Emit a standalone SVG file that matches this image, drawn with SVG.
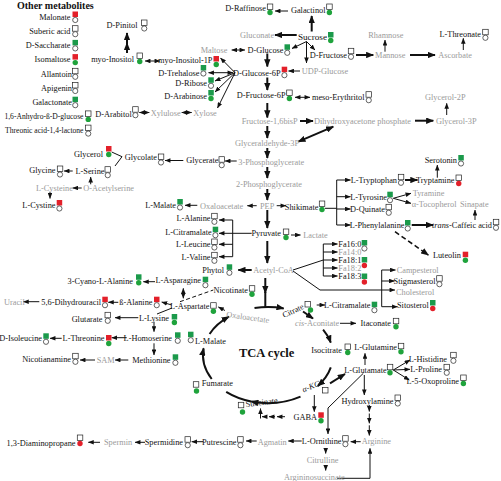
<svg xmlns="http://www.w3.org/2000/svg" width="501" height="481" viewBox="0 0 501 481">
<defs>
<marker id="a" viewBox="0 0 10 8" refX="9.5" refY="4" markerWidth="6" markerHeight="4.6" markerUnits="userSpaceOnUse" orient="auto"><path d="M0,0 L10,4 L0,8 z" fill="#111"/></marker>
<marker id="as" viewBox="0 0 10 8" refX="9.5" refY="4" markerWidth="6" markerHeight="4.6" markerUnits="userSpaceOnUse" orient="auto-start-reverse"><path d="M0,0 L10,4 L0,8 z" fill="#111"/></marker>
<marker id="ab" viewBox="0 0 10 8" refX="9" refY="4" markerWidth="8" markerHeight="6.4" markerUnits="userSpaceOnUse" orient="auto"><path d="M0,0 L10,4 L0,8 z" fill="#111"/></marker>
<marker id="abs" viewBox="0 0 10 8" refX="9" refY="4" markerWidth="8" markerHeight="6.4" markerUnits="userSpaceOnUse" orient="auto-start-reverse"><path d="M0,0 L10,4 L0,8 z" fill="#111"/></marker>
</defs>
<style>
text{font-family:"Liberation Serif","Times New Roman",serif;font-size:8.3px;fill:#111}
.e{text-anchor:end}
.g{fill:#9a9a9a}
.h{font-weight:bold}
.sm{font-size:7.6px}
.sq{fill:#fff;stroke:#222;stroke-width:0.7}
.sg{fill:#1b9a4b}
.sr{fill:#e3202a}
.ci{fill:#fff;stroke:#222;stroke-width:0.7}
.cg{fill:#1fa33c}
.cr{fill:#e3202a}
.l{fill:none;stroke:#111;stroke-width:1;marker-end:url(#a)}
.n{fill:none;stroke:#111;stroke-width:1}
.d{marker-start:url(#as)}
.t{fill:none;stroke:#111;stroke-width:2;marker-end:url(#ab)}
.td{marker-start:url(#abs)}
.c{fill:none;stroke:#111;stroke-width:2}
</style>
<rect width="501" height="481" fill="#fff"/>

<g id="connectors">
<path class="l" d="M288,11 L275,11"/>
<path class="t" d="M311.7,31.5 L311.7,16"/>
<path class="t" d="M296.7,35 L275,35"/>
<path class="l" d="M306.5,41.5 L292,48.5"/>
<path class="l" d="M306.5,41.5 L306.5,63"/>
<path class="l" d="M306.5,41.5 L315,50"/>
<path class="t" d="M356,55 L373.3,55"/>
<path class="l" d="M385,51.7 L385,40"/>
<path class="t" d="M410,55 L435,55"/>
<path class="l" d="M463.3,50 L463.3,38.3"/>
<path class="l d" d="M231.7,50 L245,50"/>
<path class="t" d="M267.3,53.5 L267.3,66.5"/>
<path class="l" d="M300,71 L288.5,71"/>
<path class="l d" d="M208.5,72.7 L233,72.7"/>
<path class="l" d="M235,72.7 L220.5,58"/>
<path class="l" d="M235,72.7 L215,81"/>
<path class="l" d="M235,72.7 L215,92"/>
<path class="l" d="M235,72.7 L217.5,108"/>
<path class="l d" d="M145,61 L160,61"/>
<path class="t" d="M127,53 L127,43"/>
<path class="t" d="M127,43 L127,33"/>
<path class="l d" d="M139.3,112.5 L149.3,112.5"/>
<path class="l d" d="M181.7,112.5 L191.7,112.5"/>
<path class="t" d="M267.3,77.5 L267.3,90"/>
<path class="l d" d="M295,97.3 L310,97.3"/>
<path class="t" d="M267.3,103 L267.3,117.5"/>
<path class="t" d="M300,121 L313,121"/>
<path class="t" d="M415,120.7 L433.3,120.7"/>
<path class="l" d="M446.7,115 L446.7,103.3"/>
<path class="t td" d="M333.3,126.7 L298.3,141.7"/>
<path class="t" d="M267.3,126 L267.3,138"/>
<path class="t" d="M267.3,148 L267.3,158"/>
<path class="l" d="M236.7,161 L225,161"/>
<path class="l" d="M183.3,160.5 L165,160.5"/>
<path class="n" d="M111.7,152 L122,156.7 L115,166"/>
<path class="l" d="M72.7,171 L64,171"/>
<path class="l" d="M90.7,184.3 L90.7,177"/>
<path class="l" d="M81.7,188 L72.7,188"/>
<path class="l" d="M50,191.7 L50,198.5"/>
<path class="t" d="M267.3,167 L267.3,178"/>
<path class="t" d="M267.3,189 L267.3,200"/>
<path class="l" d="M256.7,205.7 L247.3,205.7"/>
<path class="l" d="M197.3,205.3 L185,205.3"/>
<path class="l" d="M276.7,205.7 L286,205.7"/>
<path class="t" d="M267.3,210 L267.3,228"/>
<path class="l" d="M291,235 L300.5,235"/>
<path class="l" d="M251.7,233.3 L219,233.3"/>
<path class="n" d="M232.7,220 L232.7,256.7"/>
<path class="l" d="M232.7,220 L219,220"/>
<path class="l" d="M232.7,244.3 L219,244.3"/>
<path class="l" d="M232.7,256.7 L219,256.7"/>
<path class="t" d="M267.3,241 L267.3,263"/>
<path class="t" d="M251.7,270 L238.3,270"/>
<path class="n" d="M293,270 L323.3,260"/>
<path class="n" d="M323.3,244 L323.3,276"/>
<path class="l" d="M323.3,244 L337.5,244"/>
<path class="l" d="M323.3,252 L337.5,252"/>
<path class="l" d="M323.3,260 L337.5,260"/>
<path class="l" d="M323.3,268 L337.5,268"/>
<path class="l" d="M323.3,276 L337.5,276"/>
<path class="l" d="M293,271 L320,290 L395,290"/>
<path class="n" d="M381.7,270 L381.7,306.7"/>
<path class="l" d="M381.7,270 L395.5,270"/>
<path class="l" d="M381.7,281 L394.5,281"/>
<path class="l" d="M381.7,306.7 L397.5,306.7"/>
<path class="n" d="M325,208.3 L336.7,208.3"/>
<path class="n" d="M336.7,180 L336.7,225"/>
<path class="l" d="M336.7,180 L350.5,180"/>
<path class="l" d="M336.7,196.7 L350.5,196.7"/>
<path class="l" d="M336.7,209 L350.5,209"/>
<path class="l" d="M336.7,225 L350.5,225"/>
<path class="t" d="M405,180 L417.5,180"/>
<path class="l" d="M437.3,177.7 L437.3,165"/>
<path class="l" d="M393.3,198.3 L411,193.3"/>
<path class="l" d="M393.3,198.3 L411,203.3"/>
<path class="t" d="M411.7,225 L433,225"/>
<path class="l" d="M475,220 L475,210"/>
<path fill="none" stroke="#111" stroke-width="1.6" stroke-dasharray="5,3" marker-end="url(#ab)" d="M395,231.7 L428.3,255"/>
<path class="l" d="M316.7,305 L325,305"/>
<path class="t" d="M265.3,278 L265.3,293"/>
<path class="c" d="M265.3,292 L265.3,307.5"/>
<path class="t" d="M209.6,334 A65,48 0 0 1 228.9,316.7"/>
<path class="t" d="M254.5,308.1 A65,48 0 0 1 283.7,308.4"/>
<path class="t" d="M303,311.5 L313,318.5"/>
<path class="t" d="M323.1,329.6 A65,48 0 0 1 330.8,342.6"/>
<path class="t" d="M330.8,367.4 A65,48 0 0 1 317.8,385.9"/>
<path class="t" d="M300.5,396.6 A65,48 0 0 1 251.2,401.4"/>
<path class="c" d="M251.2,401.4 A65,48 0 0 1 226.2,391.8"/>
<path class="t" d="M211.7,379 A65,48 0 0 1 203.6,348.3"/>
<path class="l" d="M225,310.5 L218.3,307"/>
<path class="l d" d="M183.3,288.3 L183.3,298.3"/>
<path class="l" d="M155,281.7 L143.3,281.7"/>
<path class="n" stroke-dasharray="4,2.5" d="M180,301.7 L213.3,290"/>
<path class="l" d="M171.7,305 L161.7,302"/>
<path class="l" d="M118.3,302.3 L108.3,302.3"/>
<path class="l" d="M39.3,301.7 L23.3,301.7"/>
<path class="n" d="M172,308 L157,314"/>
<path class="l" d="M138.3,317.7 L115,317.7"/>
<path class="l" d="M154,321.7 L154,331.7"/>
<path class="l" d="M126.7,337.7 L111.7,337.7"/>
<path class="l" d="M154,343.3 L154,355"/>
<path class="l" d="M61.7,338.3 L50,338.3"/>
<path class="l" d="M128.3,360 L115,360"/>
<path class="l" d="M95,360 L80,360"/>
<path class="t" d="M330,383.3 L345,374"/>
<path class="l" d="M363.3,373.3 L328,408 L328,434"/>
<path class="l" d="M365,365 L365,353.3"/>
<path class="l" d="M364.3,375 L364.3,395"/>
<path class="l" d="M369.3,405 L369.3,411.5"/>
<path class="l" d="M369.3,413.5 L369.3,423.3"/>
<path class="l" d="M369.3,425.3 L369.3,435.5"/>
<path class="l" d="M393.3,370 L410,360"/>
<path class="l" d="M393.3,370 L410,369.3"/>
<path class="l" d="M393.3,370 L409.3,380"/>
<path class="l" d="M340,323.3 L356,323.3"/>
<path class="l" d="M314.3,395 L314.3,411.7"/>
<path class="l" d="M285,416.7 L277,416.7"/>
<path class="l" d="M275,416.7 L269,416.7"/>
<path class="l" d="M267,416.7 L262,416.7"/>
<path class="l" d="M260.5,418.5 L260.5,408.5"/>
<path class="l" d="M301.7,441 L288.3,441"/>
<path class="l" d="M256.7,441 L246,441"/>
<path class="l" d="M203.3,441.7 L191.7,441.7"/>
<path class="l" d="M145,442.3 L135,442.3"/>
<path class="l" d="M100,442.3 L88.3,442.3"/>
<path class="l" d="M360.7,441.7 L350.7,441.7"/>
<path class="l" d="M325.7,448 L325.7,453.5"/>
<path class="l" d="M325.7,465 L325.7,470.5"/>
<path class="l" d="M337,478.3 L370,478.3 L370,448.3"/>
</g>

<g id="other-title"><text class="h" x="17" y="8.5" style="font-size:10px">Other metabolites</text></g>
<g id="malonate"><text class="e" x="70.5" y="19.8">Malonate</text><rect class="sr" x="72.5" y="11.5" width="5.5" height="5.5"/><circle class="ci" cx="75.25" cy="20" r="2.6"/></g>
<g id="suberic"><text class="e" x="70.5" y="34">Suberic acid</text><rect class="sq" x="72.5" y="25.7" width="5.5" height="5.5"/><circle class="ci" cx="75.25" cy="34.2" r="2.6"/></g>
<g id="saccharate"><text class="e" x="70.5" y="48.2">D-Saccharate</text><rect class="sg" x="72.5" y="39.9" width="5.5" height="5.5"/><circle class="ci" cx="75.25" cy="48.4" r="2.6"/></g>
<g id="isomaltose"><text class="e" x="70.5" y="62.4">Isomaltose</text><rect class="sr" x="72.5" y="54.1" width="5.5" height="5.5"/><circle class="cg" cx="75.25" cy="62.6" r="2.7"/></g>
<g id="allantoin"><text class="e" x="72" y="76.6">Allantoin</text><rect class="sq" x="72.5" y="68.3" width="5.5" height="5.5"/><circle class="ci" cx="75.25" cy="76.8" r="2.6"/></g>
<g id="apigenin"><text class="e" x="72" y="90.8">Apigenin</text><rect class="sq" x="72.5" y="82.5" width="5.5" height="5.5"/><circle class="ci" cx="75.25" cy="91" r="2.6"/></g>
<g id="galactonate"><text class="e" x="72" y="105">Galactonate</text><rect class="sg" x="72.5" y="96.7" width="5.5" height="5.5"/><circle class="ci" cx="75.25" cy="105.2" r="2.6"/></g>
<g id="anhydroglucose"><text class="e sm" x="83.5" y="119.2">1,6-Anhydro-ß-D-glucose</text><rect class="sq" x="85.5" y="110.9" width="5.5" height="5.5"/><circle class="cg" cx="88.25" cy="119.4" r="2.7"/></g>
<g id="threonic"><text class="e sm" x="83.5" y="133.4">Threonic acid-1,4-lactone</text><rect class="sq" x="85.5" y="125.1" width="5.5" height="5.5"/><circle class="ci" cx="88.25" cy="133.6" r="2.6"/></g>

<g id="pinitol"><text class="e" x="137.5" y="28.3">D-Pinitol</text><rect class="sq" x="141.5" y="20" width="5.5" height="5.5"/><circle class="ci" cx="144.25" cy="28.5" r="2.6"/></g>
<g id="myoinositol"><text class="e" x="134" y="61.5">myo-Inositol</text><rect class="sq" x="137" y="53" width="5.5" height="5.5"/><circle class="cg" cx="139.75" cy="61.5" r="2.7"/></g>
<g id="myoinositol1p"><text class="e" x="212.5" y="63">myo-Inositol-1P</text><rect class="sr" x="213.5" y="56" width="5.5" height="5.5"/><circle class="cg" cx="216.25" cy="64.5" r="2.7"/></g>
<g id="raffinose"><text class="e" x="266" y="10.5">D-Raffinose</text><rect class="sq" x="267.3" y="4" width="5.5" height="5.5"/><circle class="cg" cx="270" cy="12.5" r="2.7"/></g>
<g id="galactinol"><text class="e" x="325.5" y="13">Galactinol</text><rect class="sq" x="326.7" y="4" width="5.5" height="5.5"/><circle class="cg" cx="329.4" cy="12.5" r="2.7"/></g>
<g id="sucrose"><text class="e" x="327" y="39.5" style="font-size:9.2px">Sucrose</text><rect class="sg" x="328" y="32" width="5.5" height="5.5"/><circle class="cg" cx="330.75" cy="40.5" r="2.7"/></g>
<g id="gluconate"><text class="g" x="240" y="38">Gluconate</text></g>
<g id="dfructose"><text class="e" x="347" y="57.5">D-Fructose</text><rect class="sq" x="348.3" y="48.3" width="5.5" height="5.5"/><circle class="ci" cx="351" cy="56.8" r="2.6"/></g>
<g id="rhamnose"><text class="g" x="368.3" y="38">Rhamnose</text></g>
<g id="mannose"><text class="g" x="375" y="58">Mannose</text></g>
<g id="ascorbate"><text class="g" x="438.3" y="58">Ascorbate</text></g>
<g id="threonate"><text class="e" x="481" y="36.5">L-Threonate</text><rect class="sq" x="482.7" y="29.3" width="5.5" height="5.5"/><circle class="ci" cx="485.4" cy="37.8" r="2.6"/></g>
<g id="maltose"><text class="g" x="200.7" y="53">Maltose</text></g>
<g id="dglucose"><text class="e" x="283.5" y="53">D-Glucose</text><rect class="sg" x="284.5" y="44.3" width="5.5" height="5.5"/><circle class="ci" cx="287.25" cy="52.8" r="2.6"/></g>
<g id="udpglucose"><text class="g" x="301.7" y="74">UDP-Glucose</text></g>
<g id="glucose6p"><text class="e" x="280.5" y="75.5">D-Glucose-6P</text><rect class="sr" x="281.7" y="66.7" width="5.5" height="5.5"/><circle class="ci" cx="284.4" cy="75.2" r="2.6"/></g>
<g id="trehalose"><text class="e" x="199.5" y="75.5">D-Trehalose</text><rect class="sg" x="200.7" y="65" width="5.5" height="5.5"/><circle class="ci" cx="203.4" cy="73.5" r="2.6"/></g>
<g id="ribose"><text class="e" x="207" y="85.5">D-Ribose</text><rect class="sg" x="208.3" y="77.3" width="5.5" height="5.5"/><circle class="ci" cx="211" cy="85.8" r="2.6"/></g>
<g id="arabinose"><text class="e" x="207" y="98.5">D-Arabinose</text><rect class="sg" x="208.3" y="90" width="5.5" height="5.5"/><circle class="cg" cx="211" cy="98.5" r="2.7"/></g>
<g id="arabitol"><text class="e" x="131.7" y="116.5">D-Arabitol</text><rect class="sq" x="132.7" y="106.7" width="5.5" height="5.5"/><circle class="ci" cx="135.4" cy="115.2" r="2.6"/></g>
<g id="xylulose"><text class="g" x="150.7" y="115.5">Xylulose</text></g>
<g id="xylose"><text class="g" x="193.3" y="115.5">Xylose</text></g>
<g id="fructose6p"><text class="e" x="285.5" y="97.5">D-Fructose-6P</text><rect class="sq" x="286.7" y="90" width="5.5" height="5.5"/><circle class="cg" cx="289.4" cy="98.5" r="2.7"/></g>
<g id="erythritol"><text class="e" x="364.5" y="99.5">meso-Erythritol</text><rect class="sq" x="366" y="91.7" width="5.5" height="5.5"/><circle class="ci" cx="368.75" cy="100.2" r="2.6"/></g>
<g id="fructose16"><text class="g" x="241.7" y="124">Fructose-1,6bisP</text></g>
<g id="dhap"><text class="g" x="314" y="123.7">Dihydroxyacetone phosphate</text></g>
<g id="glycerol3p"><text class="g" x="436" y="123.7">Glycerol-3P</text></g>
<g id="glycerol2p"><text class="g" x="425" y="99.7">Glycerol-2P</text></g>
<g id="gap"><text class="g" x="235" y="146.3">Glyceraldehyde-3P</text></g>
<g id="pg3"><text class="g" x="238.3" y="165">3-Phosphoglycerate</text></g>
<g id="glycerate"><text class="e" x="218.5" y="163">Glycerate</text><rect class="sq" x="219" y="156.7" width="5.5" height="5.5"/><circle class="ci" cx="221.75" cy="165.2" r="2.6"/></g>
<g id="glycerol"><text class="e" x="103" y="157">Glycerol</text><rect class="sr" x="106" y="146" width="5.5" height="5.5"/><circle class="cg" cx="108.75" cy="154.5" r="2.7"/></g>
<g id="glycolate"><text class="e" x="157" y="160">Glycolate</text><rect class="sq" x="158.3" y="154" width="5.5" height="5.5"/><circle class="ci" cx="161" cy="162.5" r="2.6"/></g>
<g id="glycine"><text class="e" x="55.5" y="173">Glycine</text><rect class="sq" x="57.3" y="166" width="5.5" height="5.5"/><circle class="ci" cx="60" cy="174.5" r="2.6"/></g>
<g id="serine"><text class="e" x="104.5" y="174">L-Serine</text><rect class="sq" x="105" y="166.7" width="5.5" height="5.5"/><circle class="ci" cx="107.75" cy="175.2" r="2.6"/></g>
<g id="cysteine"><text class="g" x="36" y="190.5">L-Cysteine</text></g>
<g id="oacetylserine"><text class="g" x="83.3" y="190.5">O-Acetylserine</text></g>
<g id="cystine"><text class="e" x="55.5" y="208">L-Cystine</text><rect class="sr" x="56.7" y="200" width="5.5" height="5.5"/><circle class="ci" cx="59.4" cy="208.5" r="2.6"/></g>

<g id="pg2"><text class="g" x="236" y="187">2-Phosphoglycerate</text></g>
<g id="pep"><text class="g" x="260" y="208.7">PEP</text></g>
<g id="oaa1"><text class="g" x="200" y="208.7">Oxaloacetate</text></g>
<g id="malate1"><text class="e" x="176" y="208">L-Malate</text><rect class="sg" x="177.3" y="199" width="5.5" height="5.5"/><circle class="ci" cx="180" cy="207.5" r="2.6"/></g>
<g id="shikimate"><text class="e" x="318.5" y="209.5">Shikimate</text><rect class="sq" x="319.3" y="201" width="5.5" height="5.5"/><circle class="cg" cx="322" cy="209.5" r="2.7"/></g>
<g id="pyruvate"><text class="e" x="281" y="236.3">Pyruvate</text><rect class="sq" x="283.3" y="229" width="5.5" height="5.5"/><circle class="cg" cx="286" cy="237.5" r="2.7"/></g>
<g id="lactate"><text class="g" x="303.3" y="238">Lactate</text></g>
<g id="alanine"><text class="e" x="210.5" y="221">L-Alanine</text><rect class="sq" x="211.7" y="213.3" width="5.5" height="5.5"/><circle class="ci" cx="214.4" cy="221.8" r="2.6"/></g>
<g id="citramalate1"><text class="e" x="211.7" y="235">L-Citramalate</text><rect class="sg" x="212.7" y="226.7" width="5.5" height="5.5"/><circle class="ci" cx="215.4" cy="235.2" r="2.6"/></g>
<g id="leucine"><text class="e" x="210.5" y="246.8">L-Leucine</text><rect class="sq" x="211.7" y="239" width="5.5" height="5.5"/><circle class="ci" cx="214.4" cy="247.5" r="2.6"/></g>
<g id="valine"><text class="e" x="210.5" y="259.8">L-Valine</text><rect class="sq" x="211.7" y="252.3" width="5.5" height="5.5"/><circle class="ci" cx="214.4" cy="260.8" r="2.6"/></g>
<g id="phytol"><text class="e" x="224" y="273">Phytol</text><rect class="sg" x="226.7" y="264.3" width="5.5" height="5.5"/><circle class="ci" cx="229.4" cy="272.8" r="2.6"/></g>
<g id="acetylcoa"><text class="g" x="253.3" y="273">Acetyl-CoA</text></g>
<g id="fa160"><text x="338.3" y="247">Fa16:0</text><rect class="sg" x="361.7" y="240" width="5.5" height="5.5"/><circle class="ci" cx="364.4" cy="248.5" r="2.6"/></g>
<g id="fa140"><text class="g" x="338.3" y="255">Fa14:0</text></g>
<g id="fa181"><text x="338.3" y="263">Fa18:1</text><rect class="sg" x="361.7" y="257" width="5.5" height="5.5"/><circle class="cr" cx="364.4" cy="265.5" r="2.7"/></g>
<g id="fa182"><text class="g" x="338.3" y="271">Fa18:2</text></g>
<g id="fa183"><text x="338.3" y="279">Fa18:3</text><rect class="sg" x="361.7" y="273.5" width="5.5" height="5.5"/><circle class="cr" cx="364.4" cy="282" r="2.7"/></g>
<g id="campesterol"><text class="g" x="396.7" y="273">Campesterol</text></g>
<g id="stigmasterol"><text class="e" x="435.5" y="284">Stigmasterol</text><rect class="sq" x="436.7" y="275.7" width="5.5" height="5.5"/><circle class="ci" cx="439.4" cy="284.2" r="2.6"/></g>
<g id="cholesterol"><text class="g" x="396" y="294.7">Cholesterol</text></g>
<g id="sitosterol"><text class="e" x="428.8" y="308">Sitosterol</text><rect class="sg" x="430" y="300" width="5.5" height="5.5"/><circle class="cr" cx="432.75" cy="308.5" r="2.7"/></g>
<g id="citramalate2"><text class="e" x="370.5" y="307.5">L-Citramalate</text><rect class="sg" x="371.7" y="301.7" width="5.5" height="5.5"/><circle class="ci" cx="374.4" cy="310.2" r="2.6"/></g>
<g id="serotonin"><text class="e" x="457" y="163">Serotonin</text><rect class="sg" x="458.3" y="155" width="5.5" height="5.5"/><circle class="ci" cx="461" cy="163.5" r="2.6"/></g>
<g id="tryptophan"><text class="e" x="397" y="183">L-Tryptophan</text><rect class="sq" x="398.3" y="174.3" width="5.5" height="5.5"/><circle class="ci" cx="401" cy="182.8" r="2.6"/></g>
<g id="tryptamine"><text class="e" x="454.5" y="183">Tryptamine</text><rect class="sq" x="456" y="175" width="5.5" height="5.5"/><circle class="cr" cx="458.75" cy="183.5" r="2.7"/></g>
<g id="tyrosine"><text class="e" x="387" y="199.7">L-Tyrosine</text><rect class="sg" x="387.3" y="191.7" width="5.5" height="5.5"/><circle class="ci" cx="390" cy="200.2" r="2.6"/></g>
<g id="tyramine"><text class="g" x="412.7" y="196.3">Tyramine</text></g>
<g id="tocopherol"><text class="g" x="411.7" y="207.3">α-Tocopherol</text></g>
<g id="sinapate"><text class="g" x="460" y="207.3">Sinapate</text></g>
<g id="quinate"><text class="e" x="385" y="212">D-Quinate</text><rect class="sq" x="386" y="204.3" width="5.5" height="5.5"/><circle class="ci" cx="388.75" cy="212.8" r="2.6"/></g>
<g id="phenylalanine"><text class="e" x="404.5" y="228">L-Phenylalanine</text><rect class="sg" x="405" y="220" width="5.5" height="5.5"/><circle class="ci" cx="407.75" cy="228.5" r="2.6"/></g>
<g id="caffeic"><text class="e" x="492" y="228"><tspan font-style="italic">trans</tspan>-Caffeic acid</text><rect class="sq" x="493.3" y="219.3" width="5.5" height="5.5"/><circle class="ci" cx="496" cy="227.8" r="2.6"/></g>
<g id="luteolin"><text class="e" x="461" y="258">Luteolin</text><rect class="sr" x="462.7" y="251.7" width="5.5" height="5.5"/><circle class="cg" cx="465.4" cy="260.2" r="2.7"/></g>

<g id="cyanoala"><text class="e" x="133" y="284">3-Cyano-L-Alanine</text><rect class="sg" x="136" y="274.3" width="5.5" height="5.5"/><circle class="cg" cx="138.75" cy="282.8" r="2.7"/></g>
<g id="asparagine"><text class="e" x="201" y="283">L-Asparagine</text><rect class="sg" x="202.7" y="276.7" width="5.5" height="5.5"/><circle class="ci" cx="205.4" cy="285.2" r="2.6"/></g>
<g id="nicotinate"><text class="e" x="248" y="293">Nicotinate</text><rect class="sq" x="249.3" y="285.7" width="5.5" height="5.5"/><circle class="cg" cx="252" cy="294.2" r="2.7"/></g>
<g id="uracil"><text class="g" x="4" y="304.7">Uracil</text></g>
<g id="dihydrouracil"><text class="e" x="101" y="304.7">5,6-Dihydrouracil</text><rect class="sr" x="102.3" y="296.7" width="5.5" height="5.5"/><circle class="ci" cx="105" cy="305.2" r="2.6"/></g>
<g id="balanine"><text class="e" x="152.5" y="305.3">ß-Alanine</text><rect class="sr" x="154" y="296.7" width="5.5" height="5.5"/><circle class="ci" cx="156.75" cy="305.2" r="2.6"/></g>
<g id="aspartate"><text class="e" x="209.5" y="308.7">L-Aspartate</text><rect class="sq" x="210.7" y="302.7" width="5.5" height="5.5"/><circle class="cg" cx="213.4" cy="311.2" r="2.7"/></g>
<g id="glutarate"><text class="e" x="102.5" y="322">Glutarate</text><rect class="sq" x="105" y="312.3" width="5.5" height="5.5"/><circle class="ci" cx="107.75" cy="320.8" r="2.6"/></g>
<g id="lysine"><text class="e" x="169" y="320.7">L-Lysine</text><rect class="sg" x="171.7" y="314" width="5.5" height="5.5"/><circle class="cg" cx="174.4" cy="322.5" r="2.7"/></g>
<g id="homoserine"><text class="e" x="172" y="340.7">L-Homoserine</text><rect class="sg" x="175" y="332.3" width="5.5" height="5.5"/><circle class="ci" cx="177.75" cy="340.8" r="2.6"/></g>
<g id="threonine"><text class="e" x="104.5" y="341.3">L-Threonine</text><rect class="sr" x="106" y="335" width="5.5" height="5.5"/><circle class="cg" cx="108.75" cy="343.5" r="2.7"/></g>
<g id="isoleucine"><text class="e" x="42" y="340.7">D-Isoleucine</text><rect class="sg" x="43.3" y="333.3" width="5.5" height="5.5"/><circle class="ci" cx="46" cy="341.8" r="2.6"/></g>
<g id="methionine"><text class="e" x="170.5" y="363">Methionine</text><rect class="sg" x="172.7" y="354.3" width="5.5" height="5.5"/><circle class="ci" cx="175.4" cy="362.8" r="2.6"/></g>
<g id="sam"><text class="g" x="96.7" y="363">SAM</text></g>
<g id="nicotianamine"><text class="e" x="71" y="362">Nicotianamine</text><rect class="sq" x="72.7" y="353.3" width="5.5" height="5.5"/><circle class="ci" cx="75.4" cy="361.8" r="2.6"/></g>

<g id="tca"><text class="h" x="239" y="356.5" style="font-size:12.5px">TCA cycle</text></g>
<g id="malate2"><rect class="sg" x="188" y="331.7" width="5.5" height="5.5"/><circle class="ci" cx="190.75" cy="340.2" r="2.6"/><text x="195" y="343.5">L-Malate</text></g>
<g id="oaa2"><text class="g" x="226" y="317" transform="rotate(8 226 317)">Oxaloacetate</text></g>
<g id="citrate"><text x="284" y="318" transform="rotate(-25 284 318)">Citrate</text><rect class="sq" x="305" y="301.5" width="5.5" height="5.5"/><circle class="cg" cx="310.5" cy="310" r="2.7"/></g>
<g id="cisaconitate"><text class="g" x="295" y="325.7"><tspan font-style="italic">cis</tspan>-Aconitate</text></g>
<g id="itaconate"><text class="e" x="391" y="326">Itaconate</text><rect class="sq" x="393.3" y="318.3" width="5.5" height="5.5"/><circle class="cg" cx="396" cy="326.8" r="2.7"/></g>
<g id="isocitrate"><text class="e" x="342" y="353">Isocitrate</text><rect class="sq" x="345" y="344" width="5.5" height="5.5"/><circle class="cg" cx="347.75" cy="352.5" r="2.7"/></g>
<g id="glutamine"><text class="e" x="397" y="350.3">L-Glutamine</text><rect class="sq" x="398.3" y="343.3" width="5.5" height="5.5"/><circle class="cg" cx="401" cy="351.8" r="2.7"/></g>
<g id="glutamate"><text class="e" x="386.7" y="373">L-Glutamate</text><rect class="sq" x="387.3" y="364.3" width="5.5" height="5.5"/><circle class="cg" cx="390" cy="372.8" r="2.7"/></g>
<g id="histidine"><text class="e" x="447" y="362">L-Histidine</text><rect class="sq" x="450.7" y="352.3" width="5.5" height="5.5"/><circle class="ci" cx="453.4" cy="360.8" r="2.6"/></g>
<g id="proline"><text class="e" x="442" y="372.3">L-Proline</text><rect class="sq" x="444" y="364.3" width="5.5" height="5.5"/><circle class="ci" cx="446.75" cy="372.8" r="2.6"/></g>
<g id="oxoproline"><text class="e" x="459" y="384">L-5-Oxoproline</text><rect class="sq" x="460.7" y="375" width="5.5" height="5.5"/><circle class="cg" cx="463.4" cy="383.5" r="2.7"/></g>
<g id="akg"><text x="303.5" y="392.5" transform="rotate(-22 303.5 392.5)" font-style="italic">α-KG</text><rect class="sq" x="322.5" y="387.5" width="5.5" height="5.5"/></g>
<g id="gaba"><text class="e" x="317" y="420">GABA</text><rect class="sr" x="318.3" y="412.3" width="5.5" height="5.5"/><circle class="cg" cx="321" cy="420.8" r="2.7"/></g>
<g id="succinate"><rect class="sq" x="238.3" y="402.3" width="5.5" height="5.5"/><circle class="cg" cx="242.5" cy="412" r="2.7"/><text x="246" y="407" transform="rotate(-7 246 407)" fill="#555">Succinate</text></g>
<g id="fumarate"><rect class="sq" x="193.3" y="381.7" width="5.5" height="5.5"/><circle class="cg" cx="196.5" cy="391" r="2.7"/><text x="201.7" y="386.3">Fumarate</text></g>
<g id="hydroxylamine"><text class="e" x="393.5" y="404">Hydroxylamine</text><rect class="sq" x="395" y="395" width="5.5" height="5.5"/><circle class="ci" cx="397.75" cy="403.5" r="2.6"/></g>
<g id="ornithine"><text class="e" x="341.5" y="444">L-Ornithine</text><rect class="sq" x="342.7" y="435.7" width="5.5" height="5.5"/><circle class="ci" cx="345.4" cy="444.2" r="2.6"/></g>
<g id="agmatin"><text class="g" x="257.7" y="444.7">Agmatin</text></g>
<g id="putrescine"><text class="e" x="236.5" y="444.7">Putrescine</text><rect class="sq" x="237.7" y="436.7" width="5.5" height="5.5"/><circle class="ci" cx="240.4" cy="445.2" r="2.6"/></g>
<g id="spermidine"><text class="e" x="183" y="444.7">Spermidine</text><rect class="sq" x="185" y="436.7" width="5.5" height="5.5"/><circle class="ci" cx="187.75" cy="445.2" r="2.6"/></g>
<g id="spermin"><text class="g" x="104" y="445.3">Spermin</text></g>
<g id="diaminopropane"><text class="e" x="75.5" y="445.7">1,3-Diaminopropane</text><rect class="sq" x="77.3" y="435" width="5.5" height="5.5"/><circle class="cr" cx="80" cy="443.5" r="2.7"/></g>
<g id="arginine"><text class="g" x="361.7" y="444">Arginine</text></g>
<g id="citrulline"><text class="g" x="306.7" y="463">Citrulline</text></g>
<g id="argininosuccinate"><text class="g" x="284" y="479.5">Argininosuccinate</text></g>
</svg>
